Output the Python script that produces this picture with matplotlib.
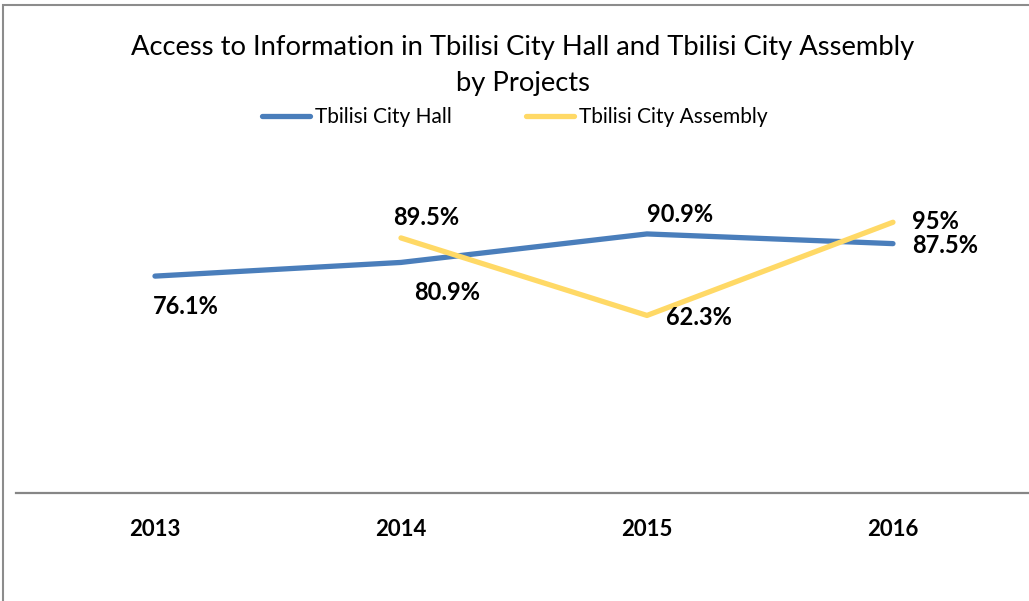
import matplotlib.pyplot as plt
from matplotlib.patches import Rectangle

plt.rcParams['font.family'] = ['Lato', 'DejaVu Sans']

years = ["2013", "2014", "2015", "2016"]
city_hall = [76.1, 80.9, 90.9, 87.5]
city_assembly = [None, 89.5, 62.3, 95.0]
hall_labels = ["76.1%", "80.9%", "90.9%", "87.5%"]
assembly_labels = [None, "89.5%", "62.3%", "95%"]

BLUE = "#4a7ebb"
YELLOW = "#ffd966"

# label offsets in pixels (dx, dy) relative to the data point
hall_offsets = [(31, -30), (46, -30), (33, 19), (52, -2)]
assembly_offsets = [None, (25, 20), (52, -2), (42, 1)]

W, H = 1029, 601
fig = plt.figure(figsize=(W / 100, H / 100), dpi=100)

# outer chart border (cropped on right and bottom)
fig.patches.append(Rectangle((3 / W, -0.1), 1.2, 1 - 5 / H + 0.1,
                             transform=fig.transFigure, fill=False,
                             edgecolor="#8c8c8c", lw=1.5))

ax_left, ax_bottom = 16 / W, (H - 493) / H
ax = fig.add_axes([ax_left, ax_bottom, 1 - ax_left, (493 - 208) / H])

x = list(range(len(years)))
h_line, = ax.plot(x, city_hall, color=BLUE, lw=3.8, solid_capstyle="round",
                  label="Tbilisi City Hall")
ax_x = [i for i, v in zip(x, city_assembly) if v is not None]
ax_y = [v for v in city_assembly if v is not None]
a_line, = ax.plot(ax_x, ax_y, color=YELLOW, lw=3.8, solid_capstyle="round",
                  label="Tbilisi City Assembly")

for i, (v, lab, off) in enumerate(zip(city_hall, hall_labels, hall_offsets)):
    ax.annotate(lab, (i, v), xytext=off, textcoords="offset pixels",
                ha="center", va="center", fontsize=17, fontweight="bold")
for i, (v, lab, off) in enumerate(zip(city_assembly, assembly_labels, assembly_offsets)):
    if v is None:
        continue
    ax.annotate(lab, (i, v), xytext=off, textcoords="offset pixels",
                ha="center", va="center", fontsize=17, fontweight="bold")

ax.set_xlim(-0.565, 3.553)
ax.set_ylim(0, 100)
ax.set_xticks(x)
ax.set_xticklabels(years, fontsize=16, fontweight="bold")
ax.set_yticks([])
ax.tick_params(axis="x", length=0, pad=19)
for side in ["top", "right", "left"]:
    ax.spines[side].set_visible(False)
ax.spines["bottom"].set_color("#868686")
ax.spines["bottom"].set_linewidth(1.6)
ax.patch.set_alpha(0)

fig.text(523 / W, 1 - 35 / H,
         "Access to Information in Tbilisi City Hall and Tbilisi City Assembly\nby Projects",
         ha="center", va="top", fontsize=19.7, linespacing=1.55)

fig.legend(handles=[h_line, a_line], loc="center", bbox_to_anchor=(515 / W, 1 - 117 / H),
           ncol=2, frameon=False, fontsize=15, handlelength=2.3,
           handletextpad=0.25, columnspacing=3.55)

fig.savefig("out.png", dpi=100)
